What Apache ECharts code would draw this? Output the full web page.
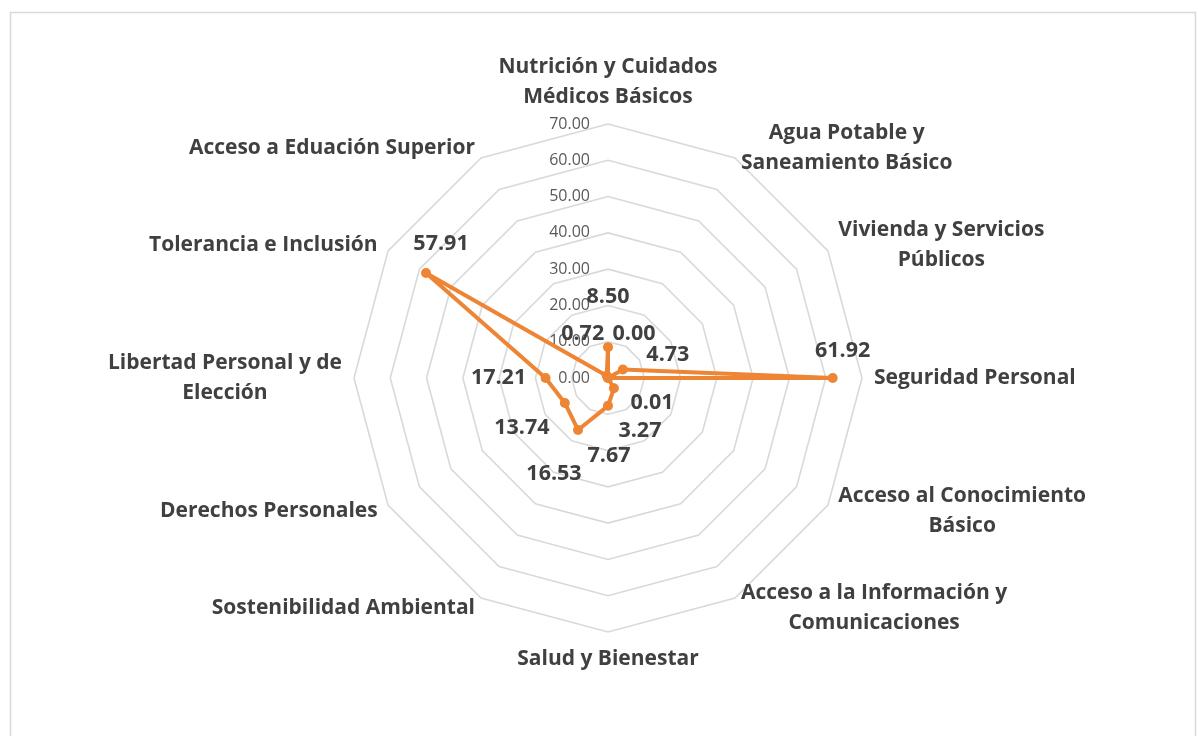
<!DOCTYPE html>
<html>
<head>
<meta charset="utf-8">
<script src="https://cdn.jsdelivr.net/npm/echarts@6/dist/echarts.min.js"></script>
<style>
  html, body { margin: 0; padding: 0; background: #fff; }
  #chart { width: 1198px; height: 736px; }
</style>
</head>
<body>
<div id="chart"></div>
<script>
// dimensions, listed clockwise starting at the top
const categories = [
  'Nutrición y Cuidados\nMédicos Básicos',
  'Agua Potable y\nSaneamiento Básico',
  'Vivienda y Servicios\nPúblicos',
  'Seguridad Personal',
  'Acceso al Conocimiento\nBásico',
  'Acceso a la Información y\nComunicaciones',
  'Salud y Bienestar',
  'Sostenibilidad Ambiental',
  'Derechos Personales',
  'Libertad Personal y de\nElección',
  'Tolerancia e Inclusión',
  'Acceso a Eduación Superior'
];
const values = [8.50, 0.00, 4.73, 61.92, 0.01, 3.27, 7.67, 16.53, 13.74, 17.21, 57.91, 0.72];
const axisMin = 0;
const axisMax = 70;
const axisSplits = 7;

// nudge of each value label from its point (px), same order as categories
const labelShift = [
  [0, -50], [26, -44], [45, -15], [10, -27], [44, 25], [26, 43],
  [1, 50], [-24, 44], [-43, 25], [-47, 0], [15, -29], [-24, -42]
];

const ORANGE = '#EE8535';
const TEXT = '#404040';
const FONT = '"Open Sans", "Liberation Sans", sans-serif';

// echarts lays radar axes out counter-clockwise, so flip the order after the first one
const order = [0];
for (let i = categories.length - 1; i > 0; i--) order.push(i);

const labelRich = {};
labelShift.forEach(([dx, dy], i) => {
  labelRich['v' + i] = {
    padding: [dy > 0 ? 2 * dy : 0, dx < 0 ? -2 * dx : 0, dy < 0 ? -2 * dy : 0, dx > 0 ? 2 * dx : 0]
  };
});

const chart = echarts.init(document.getElementById('chart'), null, { renderer: 'canvas' });

chart.setOption({
  backgroundColor: '#fff',
  animation: false,
  graphic: [{
    type: 'rect',
    shape: { x: 10.5, y: 12.5, width: 1185, height: 740 },
    style: { fill: 'none', stroke: '#d9d9d9', lineWidth: 1.5 },
    silent: true
  }],
  radar: {
    center: [608, 378],
    radius: 254,
    startAngle: 90,
    shape: 'polygon',
    splitNumber: axisSplits,
    nameGap: 12,
    indicator: order.map((i, k) => {
      const ind = { name: categories[i], min: axisMin, max: axisMax };
      if (k === 0) ind.axisLabel = { show: true };
      return ind;
    }),
    axisName: {
      color: TEXT,
      fontFamily: FONT,
      fontWeight: 'bold',
      fontSize: 21,
      lineHeight: 30,
      formatter: (name) => name.split('\n').map((s) => '{c|' + s + '}').join('\n'),
      rich: { c: { align: 'center' } }
    },
    axisLine: { show: false },
    axisTick: { show: false },
    axisLabel: {
      show: false,
      color: '#595959',
      fontFamily: FONT,
      fontSize: 16,
      margin: 18,
      formatter: (v) => v.toFixed(2)
    },
    splitLine: { lineStyle: { color: '#d9d9d9', width: 1.6 } },
    splitArea: { show: false }
  },
  series: [{
    type: 'radar',
    symbol: 'circle',
    symbolSize: 10,
    lineStyle: { color: ORANGE, width: 4 },
    itemStyle: { color: ORANGE },
    emphasis: { disabled: true },
    label: {
      show: true,
      position: 'inside',
      color: TEXT,
      fontFamily: FONT,
      fontWeight: 'bold',
      fontSize: 21.5,
      formatter: (p) => {
        const v = Array.isArray(p.value) ? p.value[0] : p.value;
        const idx = values.indexOf(v);
        return '{v' + idx + '|' + v.toFixed(2) + '}';
      },
      rich: labelRich
    },
    data: [{ value: order.map((i) => values[i]) }]
  }]
});
</script>
</body>
</html>
